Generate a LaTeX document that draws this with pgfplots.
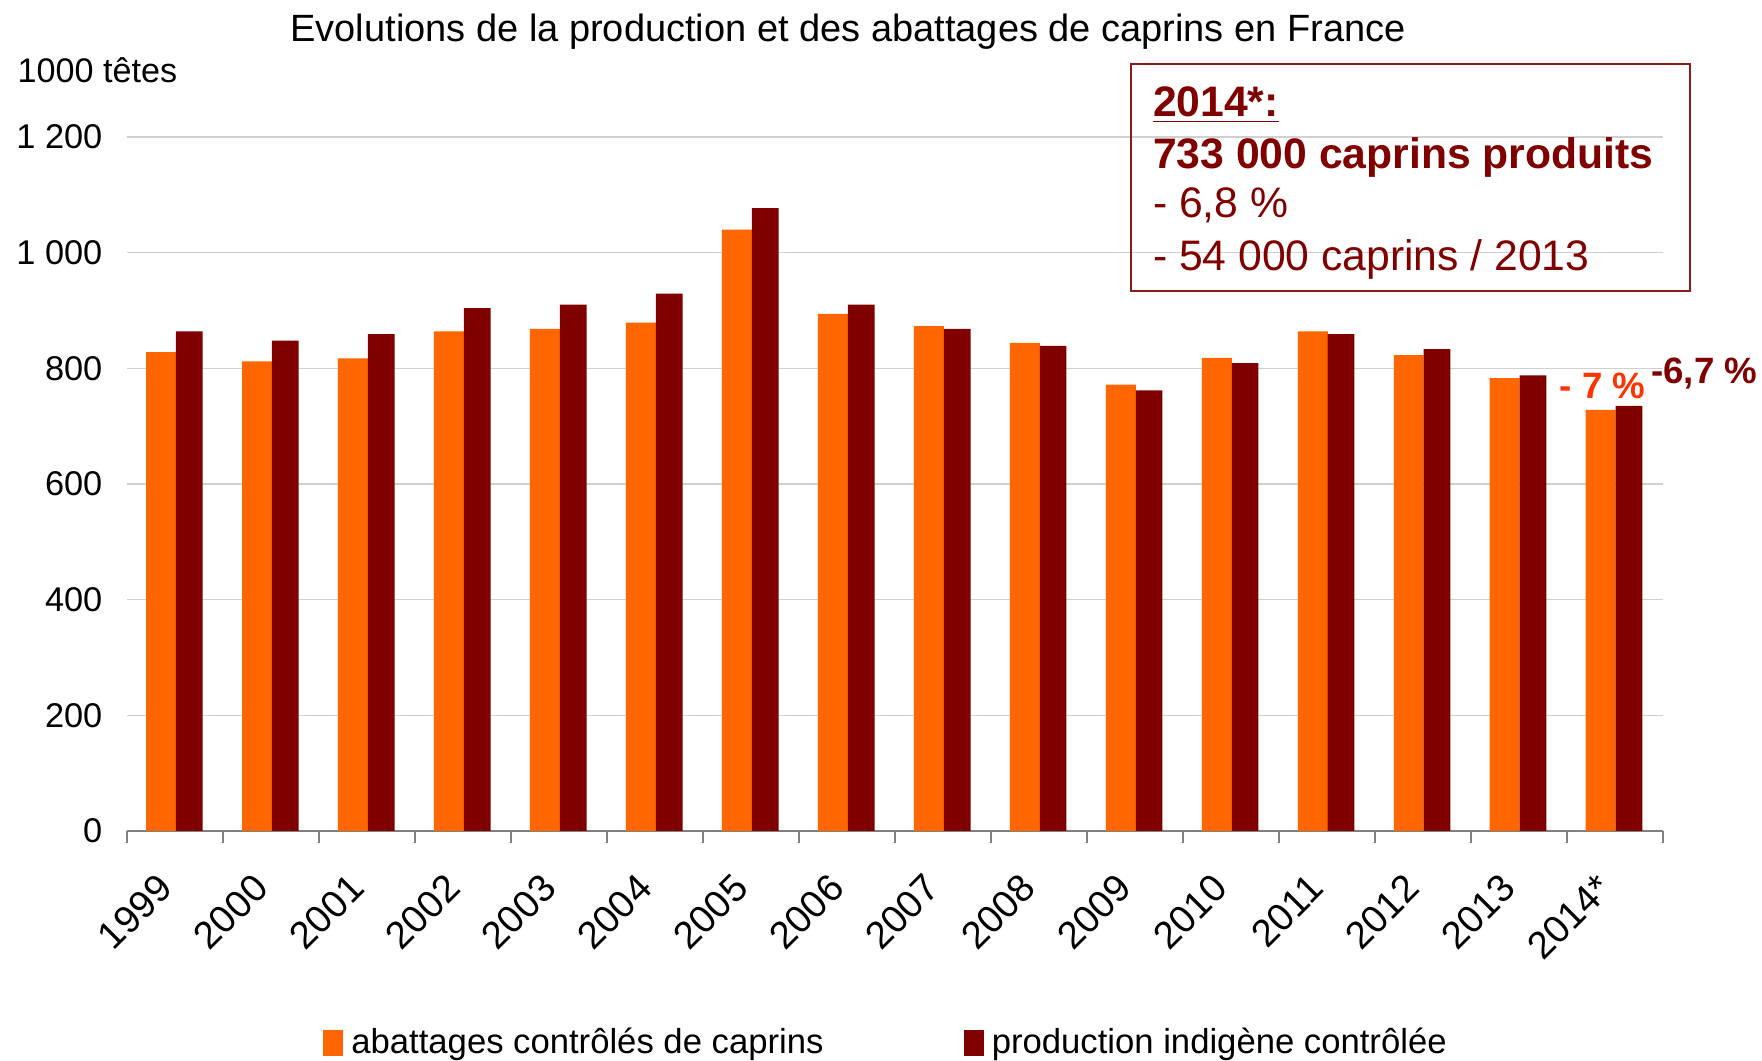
\documentclass[border=0pt]{standalone}
\usepackage{fontspec}
\setmainfont{Liberation Sans}
\usepackage{pgfplots}
\usepackage{pgfplotstable}
\pgfplotsset{compat=1.18}

\definecolor{abat}{HTML}{FF6600}
\definecolor{prod}{HTML}{800000}
\definecolor{pct}{HTML}{FF3300}
\definecolor{boxred}{HTML}{8B1C1C}
\definecolor{axisgray}{HTML}{808080}
\definecolor{gridgray}{HTML}{D0D0D0}

% 1000 tetes, 1999..2014*
\pgfplotstableread{
x abattages production
0  828  864
1  812  848
2  817  859
3  864  904
4  868  910
5  879  929
6  1040 1077
7  894  910
8  873  868
9  844  839
10 772  762
11 818  809
12 864  859
13 823  833
14 783  788
15 728  735
}\caprins

\begin{document}
\begin{tikzpicture}
\begin{axis}[
  scale only axis, width=460.7pt, height=208.2pt,
  xmin=-0.5, xmax=15.5, ymin=0, ymax=1200,
  clip=false,
  axis x line*=bottom, axis y line*=left,
  x axis line style={draw=axisgray, line width=0.6pt},
  y axis line style={draw=none},
  ytick={0,200,...,1200},
  yticklabels={0,200,400,600,800,1\ 000,1\ 200},
  xtick={0,...,15},
  xticklabels={1999,2000,2001,2002,2003,2004,2005,2006,2007,2008,2009,2010,2011,2012,2013,2014*},
  minor xtick={-0.5,0.5,...,15.5},
  major tick length=0pt, minor tick length=3.6pt, tick align=outside,
  minor tick style={draw=axisgray, line width=0.6pt},
  ytick style={draw=none},
  ymajorgrids, grid style={gridgray, line width=0.45pt},
  /pgf/number format/assume math mode=true,
  yticklabel style={font=\fontsize{10.3}{12}\selectfont, inner sep=0pt, xshift=-7.3pt},
  xticklabel style={font=\fontsize{11.5}{13}\selectfont, inner sep=0pt,
    xshift=-6pt, yshift=-12pt, rotate=45, anchor=north east},
  legend style={draw=none, fill=none, at={(0.127,-0.3055)}, anchor=west,
    inner sep=0pt, font=\fontsize{10.4}{12}\selectfont,
    nodes={inner sep=0.5pt},
    /tikz/every odd column/.append style={column sep=2pt},
    /tikz/every even column/.append style={column sep=41.5pt}},
  legend columns=2,
  legend image code/.code={\fill[#1] (0pt,-3.9pt) rectangle (6pt,3.9pt);},
]
\addplot[ybar, bar width=0.3125, bar shift=-0.149, fill=abat, draw=none]
  table[x=x, y=abattages] {\caprins};
\addlegendentry{abattages contrôlés de caprins}
\addplot[ybar, bar width=0.278, bar shift=0.146, fill=prod, draw=none]
  table[x=x, y=production] {\caprins};
\addlegendentry{production indigène contrôlée}

\coordinate (bl) at (rel axis cs:0,0);

\node[anchor=base, font=\fontsize{11.4}{13}\selectfont, inner sep=0pt]
  at (axis cs:7.01,1365) {Evolutions de la production et des abattages de caprins en France};
\node[anchor=base west, font=\fontsize{10.25}{12}\selectfont, inner sep=0pt]
  at (axis cs:-1.65,1295) {1000 têtes};

\draw[boxred, line width=0.7pt] (axis cs:9.96,933.8) rectangle (axis cs:15.78,1326);
\node[anchor=base west, inner sep=0pt, prod, font=\bfseries\fontsize{12.8}{15}\selectfont]
  at (axis cs:10.18,1235.5) {\underline{2014*:}};
\node[anchor=base west, inner sep=0pt, prod, font=\bfseries\fontsize{12.8}{15}\selectfont]
  at (axis cs:10.18,1146.3) {733 000 caprins produits};
\node[anchor=base west, inner sep=0pt, prod, font=\fontsize{12.8}{15}\selectfont]
  at (axis cs:10.18,1060) {- 6,8 \%};
\node[anchor=base west, inner sep=0pt, prod, font=\fontsize{12.8}{15}\selectfont]
  at (axis cs:10.18,970) {- 54 000 caprins / 2013};

\node[anchor=base, inner sep=0pt, pct, font=\bfseries\fontsize{11}{13}\selectfont]
  at (axis cs:14.87,748) {- 7 \%};
\node[anchor=base, inner sep=0pt, prod, font=\bfseries\fontsize{11}{13}\selectfont]
  at (axis cs:15.93,774) {-6,7 \%};
\end{axis}
\pgfresetboundingbox
\path[use as bounding box] ([shift={(-38.2pt,-69pt)}]bl) rectangle ([shift={(490.4pt,249.3pt)}]bl);
\end{tikzpicture}
\end{document}
